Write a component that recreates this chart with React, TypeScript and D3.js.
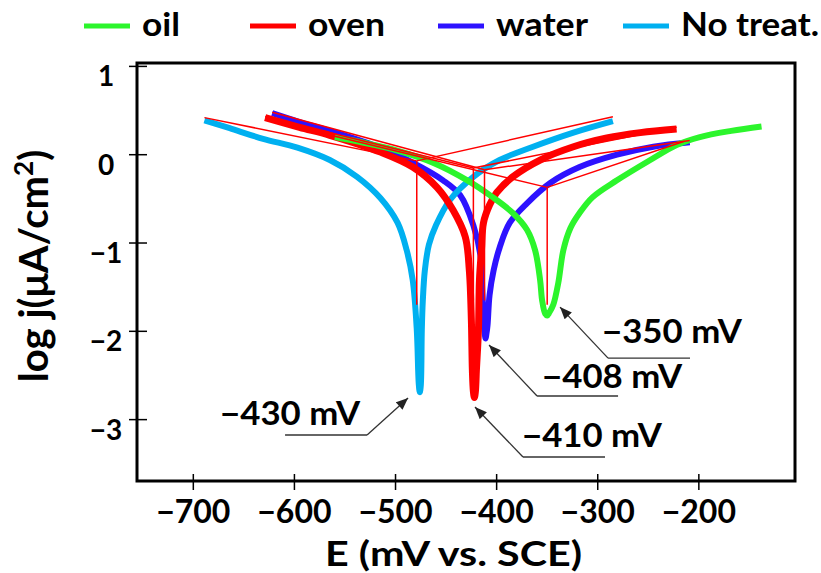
import React from "react";
import * as d3 from "d3";

// ---------- data (E in mV vs SCE, log j in log(µA/cm²)) ----------
const SERIES_NAMES = ["oil", "oven", "water", "No treat."];
const SERIES_COLORS = ["#2CF52C", "#FF0000", "#2D12FF", "#00B0F0"];

const NO_TREAT: [number, number][] = [
  [-689, 0.39], [-664, 0.30], [-631, 0.18], [-597, 0.08], [-565, -0.06], [-538, -0.25],
  [-515, -0.49], [-498, -0.77], [-489, -1.08], [-483, -1.42], [-479, -1.98], [-477, -2.6],
  [-476, -2.69], [-475, -2.61], [-474, -1.98], [-473, -1.65], [-471, -1.31], [-467, -1.02],
  [-460, -0.8], [-446, -0.51], [-423, -0.25], [-397, -0.06], [-364, 0.09], [-324, 0.25], [-285, 0.38],
];
const OVEN: [number, number][] = [
  [-629, 0.42], [-595, 0.31], [-565, 0.22], [-515, 0.03], [-483, -0.14], [-459, -0.37],
  [-443, -0.63], [-431, -0.93], [-427, -1.31], [-425, -1.87], [-424, -2.44], [-423, -2.68],
  [-422, -2.75], [-421, -2.68], [-420, -2.44], [-418, -1.99], [-417, -1.42], [-415, -1.08],
  [-413, -0.77], [-407, -0.57], [-400, -0.43], [-384, -0.25], [-357, -0.06], [-324, 0.09],
  [-291, 0.19], [-258, 0.25], [-222, 0.29],
];
const WATER: [number, number][] = [
  [-622, 0.47], [-595, 0.37], [-565, 0.27], [-515, 0.08], [-483, -0.09], [-453, -0.29],
  [-436, -0.46], [-423, -0.8], [-416, -1.14], [-414, -1.59], [-412, -1.98], [-411, -2.08],
  [-410, -2.02], [-409, -1.93], [-407, -1.59], [-403, -1.31], [-397, -1.05], [-387, -0.77],
  [-370, -0.55], [-347, -0.32], [-318, -0.14], [-281, 0.0], [-245, 0.09], [-209, 0.14],
];
const OIL: [number, number][] = [
  [-560, 0.2], [-525, 0.12], [-499, 0.05], [-463, -0.09], [-429, -0.29], [-404, -0.48],
  [-384, -0.66], [-370, -0.85], [-362, -1.08], [-357, -1.42], [-355, -1.65], [-352, -1.8],
  [-350, -1.82], [-348, -1.79], [-344, -1.7], [-339, -1.45], [-334, -1.08], [-327, -0.83],
  [-318, -0.66], [-305, -0.48], [-281, -0.29], [-248, -0.06], [-222, 0.11], [-199, 0.2],
  [-168, 0.27], [-138, 0.32],
];

// Tafel extrapolation lines (thin red)
const TAFEL_LINES: [number, number][][] = [
  [[-689, 0.42], [-479, -0.07]], [[-479, -0.07], [-285, 0.43]], [[-479, -0.07], [-479, -1.7]],
  [[-629, 0.43], [-423, -0.15]], [[-423, -0.15], [-222, 0.31]], [[-423, -0.15], [-423, -1.65]],
  [[-622, 0.48], [-412, -0.17]], [[-412, -0.17], [-209, 0.16]], [[-412, -0.17], [-412, -1.65]],
  [[-560, 0.21], [-350, -0.37]], [[-350, -0.37], [-215, 0.15]], [[-350, -0.37], [-350, -1.7]],
];

const ANNOT_LABELS = ["−430 mV", "−410 mV", "−408 mV", "−350 mV"];
const ANNOT_TIPS: [number, number][] = [
  [-487.6, -2.755], [-421.4, -2.857], [-407.5, -2.155], [-337.3, -1.726],
];

const X_TICKS = [-700, -600, -500, -400, -300, -200];
const Y_TICKS = [1, 0, -1, -2, -3];
const X_TITLE = "E (mV vs. SCE)";

// ---------- layout ----------
const W = 821, H = 573;
const L = 137, R = 795, T = 63, B = 481;
const FONT = "Lato, 'Open Sans', sans-serif";

// per-annotation layout: elbow offset from tip, underline dx, text offset from elbow
const ANNOT_LAYOUT = [
  { ex: -41, ey: 37, ux: -82, tx: -147, ty: -10 },
  { ex: 48, ey: 50, ux: 82, tx: -1, ty: -10 },
  { ex: 48, ey: 51, ux: 81, tx: 5, ty: -8 },
  { ex: 48, ey: 51, ux: 82, tx: -6, ty: -15 },
];

export default function App() {
  const x = d3.scaleLinear().domain([-755.7, -104.9]).range([L, R]);
  const y = d3.scaleLinear().domain([-3.695, 1.0385]).range([B, T]);

  const line = d3
    .line<[number, number]>()
    .x((d) => x(d[0]))
    .y((d) => y(d[1]))
    .curve(d3.curveCatmullRom.alpha(0.5));
  const straight = d3
    .line<[number, number]>()
    .x((d) => x(d[0]))
    .y((d) => y(d[1]));

  // draw order: water, no treat, oven, oil
  const curves = [
    { data: WATER, color: SERIES_COLORS[2], w: 6 },
    { data: NO_TREAT, color: SERIES_COLORS[3], w: 6 },
    { data: OVEN, color: SERIES_COLORS[1], w: 7 },
    { data: OIL, color: SERIES_COLORS[0], w: 6 },
  ];

  const legendX = [84, 250, 438, 623];
  const legendTextW = [38, 77, 92, 138];

  return (
    <svg
      width={W}
      height={H}
      style={{ position: "absolute", left: 0, top: 0, background: "#fff" }}
      fontFamily={FONT}
    >
      <defs>
        <marker
          id="arrowHead"
          viewBox="0 0 12 10"
          refX="12"
          refY="5"
          markerUnits="userSpaceOnUse"
          markerWidth="13"
          markerHeight="10"
          orient="auto"
        >
          <path d="M0,0 L12,5 L0,10 z" fill="#222" />
        </marker>
      </defs>

      {/* legend */}
      {SERIES_NAMES.map((n, i) => (
        <g key={n}>
          <line x1={legendX[i]} x2={legendX[i] + 46} y1={26} y2={26} stroke={SERIES_COLORS[i]} strokeWidth={5} />
          <text
            x={legendX[i] + 58}
            y={36}
            fontSize={33}
            fontWeight={700}
            textLength={legendTextW[i]}
            lengthAdjust="spacingAndGlyphs"
            fill="#000"
          >
            {n}
          </text>
        </g>
      ))}

      {/* curves */}
      {curves.map((c, i) => (
        <path
          key={i}
          d={line(c.data) || ""}
          fill="none"
          stroke={c.color}
          strokeWidth={c.w}
          strokeLinejoin="round"
          strokeLinecap="butt"
        />
      ))}

      {/* Tafel lines */}
      {TAFEL_LINES.map((seg, i) => (
        <path key={i} d={straight(seg) || ""} fill="none" stroke="#FF0000" strokeWidth={1.5} />
      ))}

      {/* frame */}
      <rect x={L} y={T} width={R - L} height={B - T} fill="none" stroke="#000" strokeWidth={3} />

      {/* x ticks */}
      {X_TICKS.map((t) => (
        <g key={t}>
          <line x1={x(t)} x2={x(t)} y1={B - 7} y2={B + 9} stroke="#000" strokeWidth={1.5} />
          <text x={x(t)} y={523} textAnchor="middle" fontSize={32} fontWeight={700} fill="#000">
            {t < 0 ? "−" + Math.abs(t) : String(t)}
          </text>
        </g>
      ))}

      {/* y ticks */}
      {Y_TICKS.map((t) => (
        <g key={t}>
          <line x1={L - 8} x2={L + 10} y1={y(t)} y2={y(t)} stroke="#000" strokeWidth={1.5} />
          <text x={106} y={y(t) + 20} textAnchor="middle" fontSize={28} fontWeight={700} fill="#000">
            {t < 0 ? "−" + Math.abs(t) : String(t)}
          </text>
        </g>
      ))}

      {/* axis titles */}
      <text
        x={453.5}
        y={566}
        textAnchor="middle"
        fontSize={35}
        fontWeight={700}
        textLength={257}
        lengthAdjust="spacingAndGlyphs"
        fill="#000"
      >
        {X_TITLE}
      </text>
      <text
        transform="translate(48,266) rotate(-90)"
        textAnchor="middle"
        fontSize={40}
        fontWeight={700}
        fill="#000"
      >
        log j(μA/cm<tspan fontSize={26} dy={-15}>2</tspan>
        <tspan dy={15}>)</tspan>
      </text>

      {/* annotations */}
      {ANNOT_LABELS.map((lab, i) => {
        const tx = x(ANNOT_TIPS[i][0]);
        const ty = y(ANNOT_TIPS[i][1]);
        const lay = ANNOT_LAYOUT[i];
        const ex = tx + lay.ex;
        const ey = ty + lay.ey;
        return (
          <g key={lab}>
            <line x1={ex} y1={ey} x2={ex + lay.ux} y2={ey} stroke="#333" strokeWidth={1.3} />
            <line x1={ex} y1={ey} x2={tx} y2={ty} stroke="#333" strokeWidth={1.3} markerEnd="url(#arrowHead)" />
            <text
              x={ex + lay.tx}
              y={ey + lay.ty}
              fontSize={33}
              fontWeight={700}
              textLength={140}
              lengthAdjust="spacingAndGlyphs"
              fill="#000"
            >
              {lab}
            </text>
          </g>
        );
      })}
    </svg>
  );
}
